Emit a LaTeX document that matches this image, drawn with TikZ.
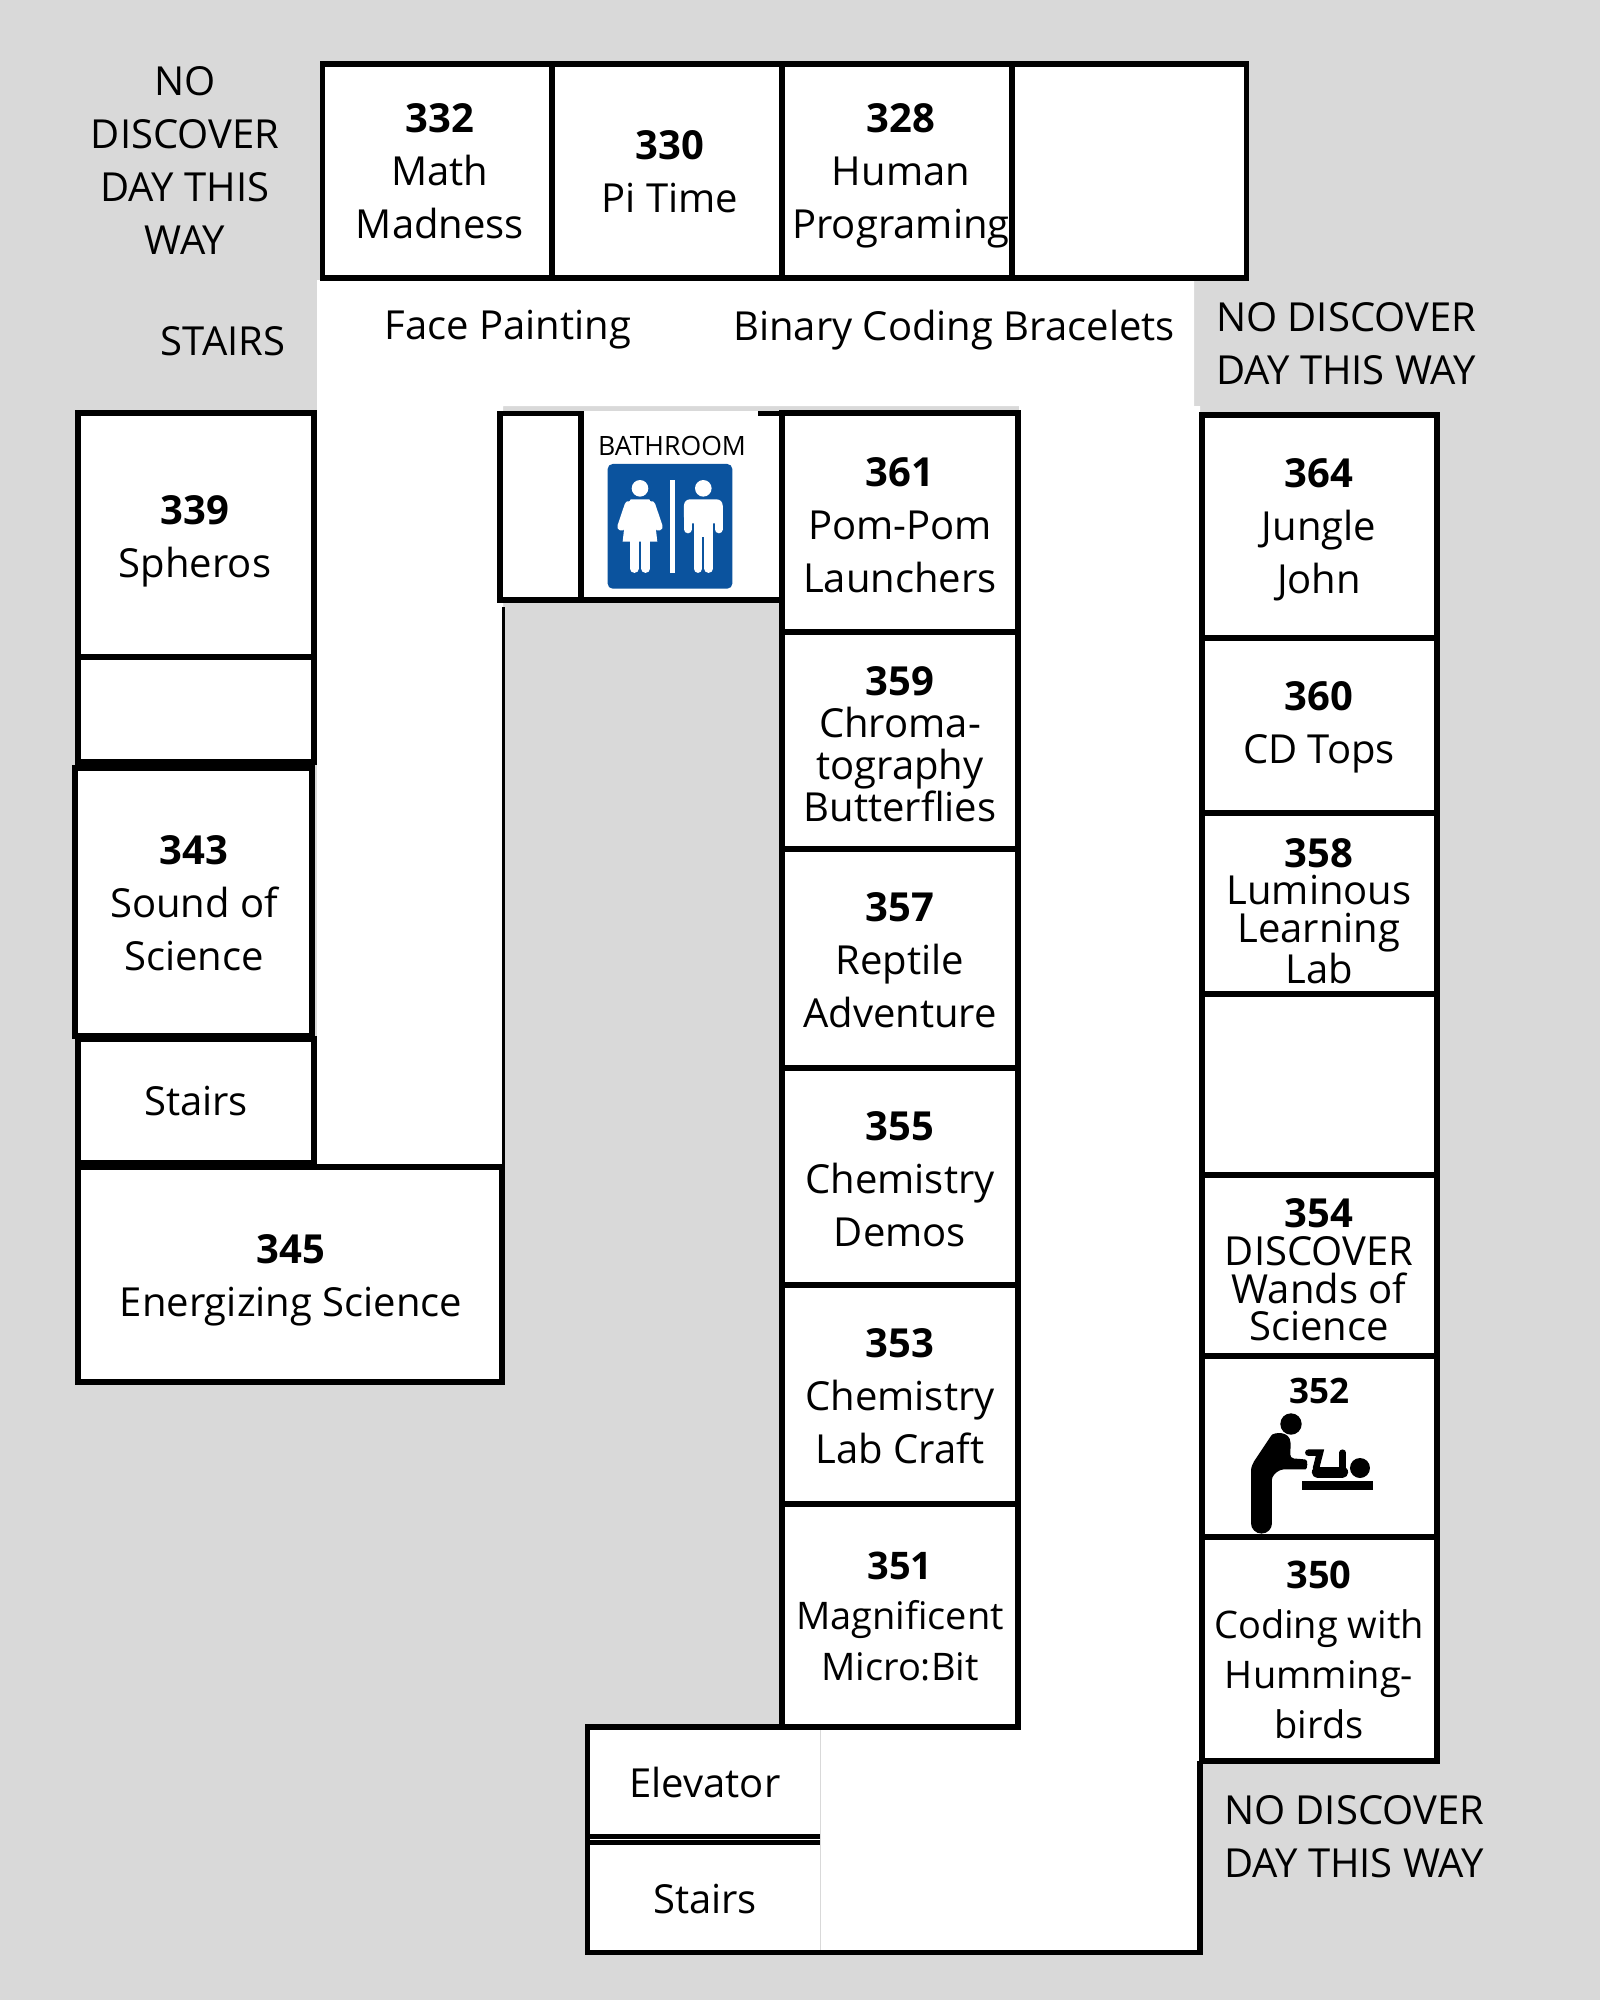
\documentclass[tikz,border=0pt]{standalone}
\usepackage{fontspec}
\setmainfont{Open Sans}
\definecolor{bggrey}{HTML}{D9D9D9}
\definecolor{signblue}{HTML}{0B539E}
\tikzset{
  x=1pt,y=-1pt,
  wall/.style={draw=black,line width=5.5pt,line join=miter},
  roomtext/.style={align=center,inner sep=0pt,text=black,font=\fontsize{40}{53}\selectfont},
  tight/.style={font=\fontsize{40}{42}\selectfont},
  tighter/.style={font=\fontsize{40}{37.6}\selectfont}
}
\newcommand{\nm}[1]{\textbf{#1}}
\begin{document}
\begin{tikzpicture}
\useasboundingbox (0,0) rectangle (1600,2000);
\fill[bggrey] (0,0) rectangle (1600,2000);
% corridor
\fill[white] (317,280) -- (1194,280) -- (1194,406) -- (1200,406) -- (1200,1950) -- (588,1950) -- (588,1727) -- (1019,1727) -- (1019,406) -- (503,406) -- (503,1165) -- (317,1165) -- cycle;
\fill[white] (503,411) rectangle (782,600);
% top rooms
\fill[white] (320,64) rectangle (1249,278);
\draw[wall] (322.5,64) rectangle (1246.5,278);
\draw[wall] (552,64) -- (552,278);
\draw[wall] (782,64) -- (782,278);
\draw[wall] (1012,64) -- (1012,278);
% left rooms
\fill[white] (78,413) rectangle (315,1163);
\draw[wall] (78,413) rectangle (314,657);
\draw[wall] (78,657) rectangle (314,762);
\draw[wall] (75,768) rectangle (312,1036);
\draw[wall] (78,1039) rectangle (314,1163);
\fill[white] (78,1167) rectangle (503,1382);
\draw[wall] (78,1167) rectangle (502,1382);
\draw[black,line width=3pt] (503,607) -- (503,1165);
% bathroom block
\draw[wall] (500,413.5) rectangle (581,600);
\draw[wall] (581,600) -- (782,600);
\draw[wall] (758,413.5) -- (782,413.5);
% centre column
\fill[white] (782,413) rectangle (1019,1727);
\draw[wall] (782,413) rectangle (1018,632);
\draw[wall] (782,632) rectangle (1018,849);
\draw[wall] (782,849) rectangle (1018,1068);
\draw[wall] (782,1068) rectangle (1018,1285);
\draw[wall] (782,1285) rectangle (1018,1504);
\draw[wall] (782,1504) rectangle (1018,1727);
% right column
\fill[white] (1202,415) rectangle (1437,1761);
\draw[wall] (1202,415) rectangle (1437,638);
\draw[wall] (1202,638) rectangle (1437,813);
\draw[wall] (1202,813) rectangle (1437,994);
\draw[wall] (1202,994) rectangle (1437,1175);
\draw[wall] (1202,1175) rectangle (1437,1356);
\draw[wall] (1202,1356) rectangle (1437,1537);
\draw[wall] (1202,1537) rectangle (1437,1761);
% lower block
\draw[wall] (820,1727) -- (587.5,1727) -- (587.5,1952.5) -- (1200,1952.5) -- (1200,1761);
\draw[wall] (587.5,1836.5) -- (820,1836.5);
\draw[wall] (587.5,1842.5) -- (820,1842.5);
\draw[bggrey,line width=1pt] (820.5,1730) -- (820.5,1950);
% bathroom sign
\begin{scope}[shift={(480,390)},x=0.3333pt,y=-0.3333pt]
\fill[signblue,rounded corners=5pt] (383,222) rectangle (757,596);
\fill[white] (480,295) circle[radius=8.3pt];
\fill[white] (670,295) circle[radius=8.3pt];
\fill[white] (571,270) rectangle (586,548);
% woman
\fill[white] (452,328) -- (508,328) -- (520,350) -- (532,455) -- (428,455) -- (440,350) -- cycle;
\draw[white,line width=8pt,line cap=round] (446,345) -- (424,410);
\draw[white,line width=8pt,line cap=round] (514,345) -- (536,410);
\draw[white,line width=8.5pt,line cap=round] (463,455) -- (463,536);
\draw[white,line width=8.5pt,line cap=round] (497,455) -- (497,536);
% man
\fill[white,rounded corners=6pt] (612,328) rectangle (728,400);
\fill[white] (642,380) rectangle (698,440);
\draw[white,line width=8pt,line cap=round] (624,350) -- (624,418);
\draw[white,line width=8pt,line cap=round] (716,350) -- (716,418);
\draw[white,line width=8.5pt,line cap=round] (654,430) -- (654,536);
\draw[white,line width=8.5pt,line cap=round] (686,430) -- (686,536);
\end{scope}
% baby-changing icon
\begin{scope}[shift={(1190,1340)},x=0.3333pt,y=-0.3333pt]
\fill[black] (303,252) circle[radius=10.7pt];
\draw[black,line width=20.5pt,line cap=round] (215,390) -- (215,550);
\fill[black,rounded corners=4pt] (185,375) -- (238,295) .. controls (250,278) and (300,270) .. (302,320) -- (300,355) -- (335,357) .. controls (355,360) and (352,388) .. (335,388) -- (270,388) -- (245,410) -- (245,450) -- (185,450) -- cycle;
\fill[black] (336,423) rectangle (550,450);
\fill[black] (510,384) circle[radius=10pt];
\draw[black,line width=11pt,line cap=round] (382,396) -- (458,396);
\draw[black,line width=6.5pt,line cap=round] (355,338) -- (390,338) -- (378,385);
\draw[black,line width=6.5pt,line cap=round] (458,338) -- (458,385);
\end{scope}
% labels
\node[roomtext] (nda) at (185,160) {NO\\DISCOVER\\DAY THIS\\WAY};
\node[roomtext] (stu) at (223,341) {STAIRS};
\node[roomtext] (face) at (508,330) {Face Painting};
\node[roomtext] (bin) at (954,330) {Binary Coding Bracelets};
\node[roomtext] (ndb) at (1346,344) {NO DISCOVER\\DAY THIS WAY};
\node[roomtext] (ndc) at (1354,1837) {NO DISCOVER\\DAY THIS WAY};
\node[roomtext] (r332) at (440,171) {\nm{332}\\Math\\Madness};
\node[roomtext] (r330) at (670,172) {\nm{330}\\Pi Time};
\node[roomtext] (r328) at (901,176) {\nm{328}\\Human\\Programing};
\node[roomtext] (r339) at (195,541) {\nm{339}\\Spheros};
\node[roomtext] (r343) at (194,903) {\nm{343}\\Sound of\\Science};
\node[roomtext] (rst1) at (196,1101) {Stairs};
\node[roomtext] (r345) at (291,1280) {\nm{345}\\Energizing Science};
\node[roomtext,font=\fontsize{26.6}{30}\selectfont] (bath) at (672,446) {BATHROOM};
\node[roomtext] (r361) at (900,525) {\nm{361}\\Pom-Pom\\Launchers};
\node[roomtext,tight] (r359) at (900,744) {\nm{359}\\Chroma-\\tography\\Butterflies};
\node[roomtext] (r357) at (900,960) {\nm{357}\\Reptile\\Adventure};
\node[roomtext] (r355) at (900,1179) {\nm{355}\\Chemistry\\Demos};
\node[roomtext] (r353) at (900,1396) {\nm{353}\\Chemistry\\Lab Craft};
\node[roomtext,font=\fontsize{38}{50.5}\selectfont] (r351) at (900,1616) {\nm{351}\\Magnificent\\Micro:Bit};
\node[roomtext] (rele) at (705,1782) {Elevator};
\node[roomtext] (rst2) at (705,1899) {Stairs};
\node[roomtext] (r364) at (1319,530) {\nm{364}\\Jungle\\John};
\node[roomtext] (r360) at (1319,727) {\nm{360}\\CD Tops};
\node[roomtext,tighter] (r358) at (1319,911) {\nm{358}\\Luminous\\Learning\\Lab};
\node[roomtext,tighter] (r354) at (1319,1270) {\nm{354}\\DISCOVER\\Wands of\\Science};
\node[roomtext,font=\fontsize{35}{38}\selectfont] (r352) at (1319,1391) {\nm{352}};
\node[roomtext,font=\fontsize{38}{50}\selectfont] (r350) at (1319,1650) {\nm{350}\\Coding with\\Humming-\\birds};
\end{tikzpicture}
\end{document}
